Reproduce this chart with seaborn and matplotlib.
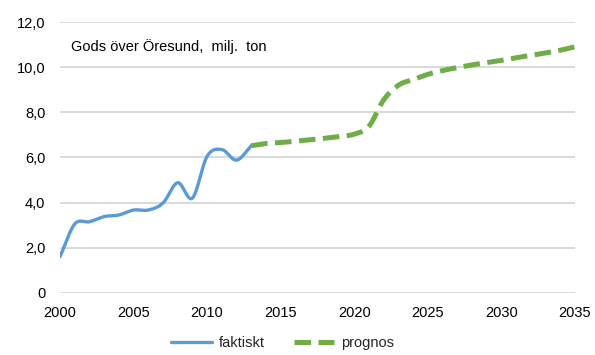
import numpy as np
import pandas as pd
import matplotlib
matplotlib.use("Agg")
import matplotlib.pyplot as plt
import seaborn as sns

# Gods över Öresund, miljoner ton
years_actual = [2000, 2001, 2002, 2003, 2004, 2005, 2006, 2007,
                2008, 2009, 2010, 2011, 2012, 2013]
values_actual = [1.6, 3.05, 3.15, 3.38, 3.45, 3.67, 3.67, 3.98,
                 4.88, 4.2, 6.05, 6.35, 5.88, 6.52]

years_forecast = [2013, 2014, 2015, 2016, 2017, 2018, 2019, 2020, 2021,
                  2022, 2023, 2024, 2025, 2026, 2027, 2028, 2029, 2030,
                  2031, 2032, 2033, 2034, 2035]
values_forecast = [6.52, 6.62, 6.66, 6.72, 6.78, 6.85, 6.93, 7.03, 7.38,
                   8.55, 9.2, 9.45, 9.68, 9.85, 9.98, 10.1, 10.2, 10.3,
                   10.42, 10.52, 10.63, 10.75, 10.9]

x_ticks = [2000, 2005, 2010, 2015, 2020, 2025, 2030, 2035]
y_ticks = [0, 2, 4, 6, 8, 10, 12]
y_ticklabels = ["0", "2,0", "4,0", "6,0", "8,0", "10,0", "12,0"]

BLUE = "#5b9bd5"
GREEN = "#70ad47"


def smooth(xs, ys, steps=24):
    """Catmull-Rom curve through the given points (smoothed line style)."""
    x = np.asarray(xs, float)
    y = np.asarray(ys, float)
    px = np.concatenate([[2 * x[0] - x[1]], x, [2 * x[-1] - x[-2]]])
    py = np.concatenate([[2 * y[0] - y[1]], y, [2 * y[-1] - y[-2]]])
    out_x, out_y = [], []
    t = np.linspace(0, 1, steps, endpoint=False)
    for i in range(1, len(px) - 2):
        for arr, src in ((out_x, px), (out_y, py)):
            p0, p1, p2, p3 = src[i - 1], src[i], src[i + 1], src[i + 2]
            arr.extend(0.5 * ((2 * p1) + (-p0 + p2) * t
                              + (2 * p0 - 5 * p1 + 4 * p2 - p3) * t ** 2
                              + (-p0 + 3 * p1 - 3 * p2 + p3) * t ** 3))
    out_x.append(x[-1])
    out_y.append(y[-1])
    return np.array(out_x), np.array(out_y)


sns.set_style("white")
plt.rcParams["font.family"] = ["Liberation Sans", "DejaVu Sans"]

fig = plt.figure(figsize=(5.95, 3.55), dpi=100)
ax = fig.add_axes([0.1008, 0.175, 0.8655, 0.763])

ax_x, ax_y = smooth(years_actual, values_actual)
df_actual = pd.DataFrame({"år": ax_x, "värde": ax_y})
fx, fy = smooth(years_forecast, values_forecast)
df_forecast = pd.DataFrame({"år": fx, "värde": fy})

sns.lineplot(data=df_actual, x="år", y="värde", ax=ax, color=BLUE,
             linewidth=2.4, label="faktiskt", sort=False,
             solid_capstyle="round")
sns.lineplot(data=df_forecast, x="år", y="värde", ax=ax, color=GREEN,
             linewidth=3.6, label="prognos", sort=False,
             linestyle=(0, (3.3, 1.5)), dash_capstyle="butt")

ax.set_xlim(2000, 2035)
ax.set_ylim(0, 12)
ax.set_xticks(x_ticks)
ax.set_xticklabels([str(v) for v in x_ticks])
ax.set_yticks(y_ticks)
ax.set_yticklabels(y_ticklabels)
ax.set_xlabel("")
ax.set_ylabel("")
ax.grid(axis="y", color="#d9d9d9", linewidth=1.4)
ax.grid(axis="x", visible=False)
ax.set_axisbelow(True)
for s in ax.spines.values():
    s.set_visible(False)
ax.tick_params(axis="both", length=0, labelsize=10.5, colors="#000000")
ax.tick_params(axis="y", pad=10.5)
ax.tick_params(axis="x", pad=9.5)

ax.text(2000.75, 10.9, "Gods över Öresund,  milj.  ton", fontsize=10.5,
        ha="left", va="center", color="#000000")

leg = ax.legend(loc="upper center", bbox_to_anchor=(0.432, -0.122), ncol=2,
                frameon=False, fontsize=10.5, handlelength=2.8,
                columnspacing=2.0, handletextpad=0.45, borderpad=0.2)

fig.savefig("out.png", dpi=100)
